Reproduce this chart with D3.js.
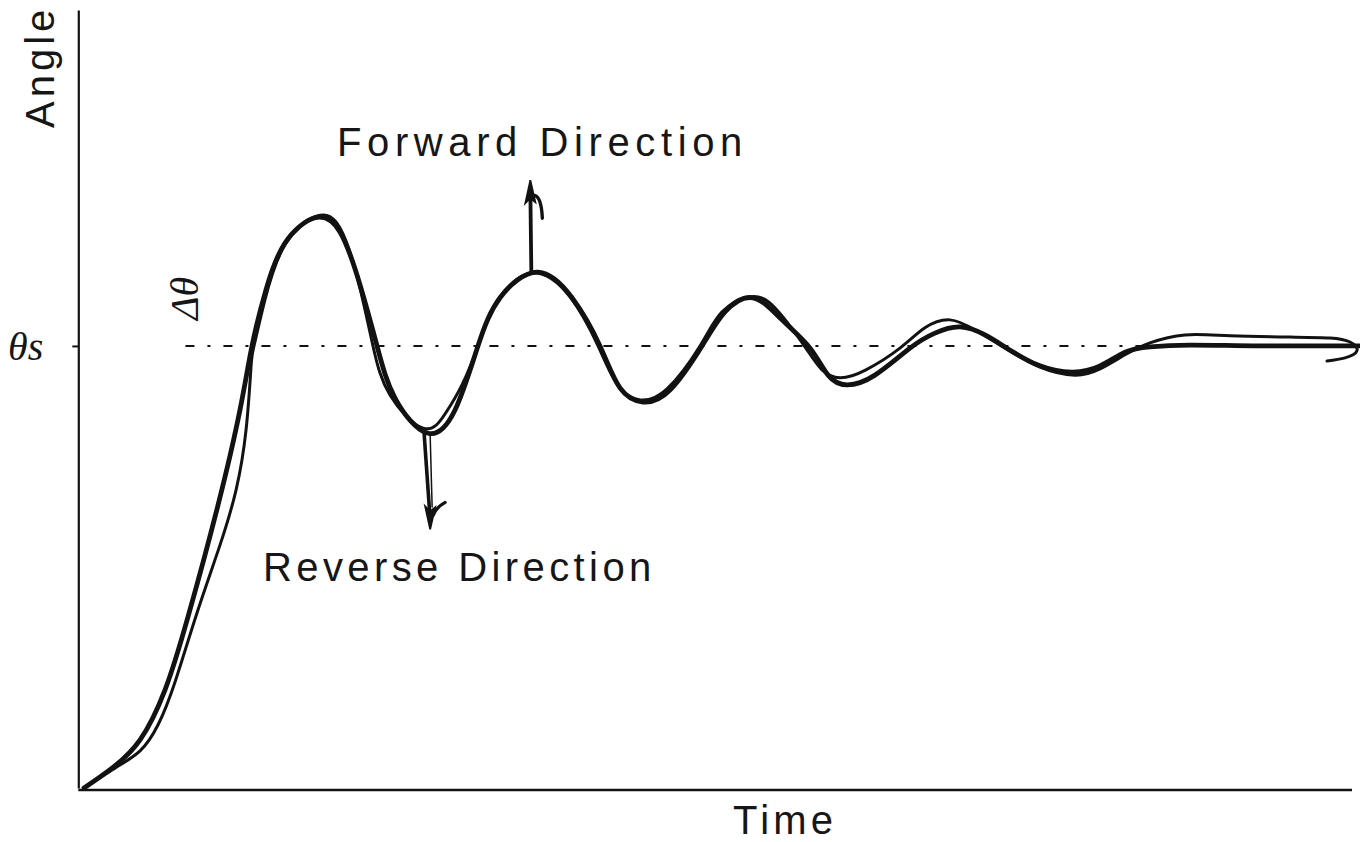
<!DOCTYPE html>
<html>
<head>
<meta charset="utf-8">
<script src="https://cdn.jsdelivr.net/npm/d3@7"></script>
<style>
  html, body { margin: 0; padding: 0; background: #fff; }
  svg { display: block; }
  .lbl { font-family: "Liberation Sans", Arial, sans-serif; font-size: 40px; fill: #161616; }
  .sym { font-family: "Liberation Serif", "DejaVu Serif", serif; font-style: italic; fill: #161616; }
</style>
</head>
<body>
<svg id="chart" width="1360" height="842"></svg>
<script>
// Step response of the angle: time (arbitrary units) vs angle relative to the set point θs (= 1)
const forwardTime  = [0, 2.21, 4.42, 6.39, 8.2, 10.57, 12.3, 13.25, 14.35, 15.85, 18.22, 20.19, 21.77, 23.11, 24.53, 27.05, 29.26, 31.07, 32.81, 35.73, 38.49, 40.69, 42.27, 44.09, 46.21, 48.74, 50.55, 52.76, 55.05, 57.26, 58.68, 60.17, 62.38, 65.14, 67.11, 69.09, 71.06, 72.79, 75.39, 77.99, 80.13, 82.1, 84.07, 87.22, 92.74, 100.63];
const forwardAngle = [0, 0.045, 0.109, 0.222, 0.387, 0.64, 0.855, 1.0, 1.127, 1.233, 1.29, 1.258, 1.138, 1.0, 0.882, 0.803, 0.855, 1.0, 1.109, 1.167, 1.109, 1.0, 0.905, 0.873, 0.9, 1.0, 1.077, 1.109, 1.059, 0.995, 0.934, 0.912, 0.934, 0.995, 1.029, 1.043, 1.025, 0.995, 0.955, 0.941, 0.955, 0.986, 0.998, 1.002, 1.0, 1.0];

const reverseTime  = [0, 2.44, 4.42, 5.84, 7.18, 8.91, 10.73, 11.99, 12.78, 13.17, 13.41, 14.27, 15.85, 18.38, 20.19, 21.61, 22.79, 24.13, 26.74, 28.47, 29.81, 31.07, 32.65, 35.41, 38.33, 40.54, 42.11, 43.85, 45.98, 48.58, 50.32, 52.52, 54.5, 56.86, 58.2, 59.62, 61.67, 64.35, 66.32, 68.3, 70.27, 72.63, 75.39, 78.15, 80.13, 82.1, 84.07, 86.83, 90.38, 95.11, 98.26, 99.84, 100.39, 99.45, 98.03];
const reverseAngle = [0, 0.045, 0.084, 0.143, 0.24, 0.396, 0.55, 0.674, 0.81, 0.952, 1.0, 1.104, 1.229, 1.294, 1.267, 1.149, 1.0, 0.889, 0.814, 0.846, 0.912, 1.0, 1.104, 1.165, 1.111, 1.0, 0.91, 0.878, 0.903, 1.0, 1.077, 1.111, 1.086, 0.998, 0.946, 0.928, 0.946, 0.995, 1.041, 1.059, 1.036, 0.995, 0.952, 0.934, 0.948, 0.98, 1.007, 1.025, 1.023, 1.02, 1.018, 1.009, 0.989, 0.973, 0.966];

const setPoint = 1;               // θs
const setLineSpan = [8, 84];      // extent of the dash-dot reference line (time units)
const fwdArrow = { t: 35.2, from: 1.168, to: 1.375 };   // upward arrow from the 2nd overshoot
const revArrow = { t0: 26.9, t1: 27.3, from: 0.803, to: 0.585 }; // downward arrow from the 1st undershoot

const labels = { y: "Angle", x: "Time", setPoint: "θs", delta: "Δθ", forward: "Forward Direction", reverse: "Reverse Direction" };

const svg = d3.select("#chart");
const ink = "#121212";

const x = d3.scaleLinear().domain([0, 100]).range([84, 1352]);
const y = d3.scaleLinear().domain([0, 1.76]).range([788, 10]);

// Axes: plain lines, one tick at the set point
const yAxis = d3.axisLeft(y).tickValues([setPoint]).tickFormat("").tickSize(6).tickSizeOuter(0);
const gy = svg.append("g").attr("transform", `translate(${x(-0.45)},0)`).call(yAxis);
gy.select(".domain").attr("stroke", ink).attr("stroke-width", 2.2);
gy.selectAll(".tick line").attr("stroke", ink).attr("stroke-width", 2);

const xAxis = d3.axisBottom(x).tickValues([]).tickSizeOuter(0);
const gx = svg.append("g").attr("transform", `translate(0,${y(0) + 2})`).call(xAxis);
gx.select(".domain").attr("stroke", ink).attr("stroke-width", 2.4)
  .attr("d", `M${x(-0.45)},0H${x(100)}`);

// Dash-dot set-point line
svg.append("line")
  .attr("x1", x(setLineSpan[0])).attr("x2", x(setLineSpan[1]))
  .attr("y1", y(setPoint)).attr("y2", y(setPoint))
  .attr("stroke", ink).attr("stroke-width", 2)
  .attr("stroke-dasharray", "9,13,3,13");

const line = d3.line()
  .x(d => x(d[0])).y(d => y(d[1]))
  .curve(d3.curveNatural);

const fwdData = forwardTime.map((t, i) => [t, forwardAngle[i]]);
const revData = reverseTime.map((t, i) => [t, reverseAngle[i]]);

svg.append("path").datum(fwdData).attr("d", line)
  .attr("fill", "none").attr("stroke", ink).attr("stroke-width", 4.8)
  .attr("stroke-linecap", "round").attr("stroke-linejoin", "round");
svg.append("path").datum(revData).attr("d", line)
  .attr("fill", "none").attr("stroke", ink).attr("stroke-width", 3)
  .attr("stroke-linecap", "round").attr("stroke-linejoin", "round");

// Forward-direction arrow
const fx = x(fwdArrow.t), fy0 = y(fwdArrow.from), fy1 = y(fwdArrow.to);
svg.append("line").attr("x1", fx + 1).attr("y1", fy0).attr("x2", fx).attr("y2", fy1 + 10)
  .attr("stroke", ink).attr("stroke-width", 3.8);
svg.append("path").attr("transform", `translate(${fx},${fy1})`)
  .attr("d", "M0,0 L-5,23 L0,18 L5,22 Z").attr("fill", ink).attr("stroke", ink).attr("stroke-width", 1.8);
svg.append("path").attr("transform", `translate(${fx},${fy1})`)
  .attr("d", "M3,15 Q11,15 12,38").attr("fill", "none").attr("stroke", ink).attr("stroke-width", 3.4)
  .attr("stroke-linecap", "round");

// Reverse-direction arrow (double-stroked shaft)
const rx0 = x(revArrow.t0), rx1 = x(revArrow.t1), ry0 = y(revArrow.from), ry1 = y(revArrow.to);
svg.append("line").attr("x1", rx0 - 1).attr("y1", ry0).attr("x2", rx1).attr("y2", ry1 - 10)
  .attr("stroke", ink).attr("stroke-width", 3.6);
svg.append("line").attr("x1", rx0 + 5).attr("y1", ry0).attr("x2", rx1 + 2).attr("y2", ry1 - 22)
  .attr("stroke", ink).attr("stroke-width", 1.5);
svg.append("path").attr("transform", `translate(${rx1},${ry1})`)
  .attr("d", "M0,0 L-5,-23 L0,-18 L5,-22 Z").attr("fill", ink).attr("stroke", ink).attr("stroke-width", 1.8);
svg.append("path").attr("transform", `translate(${rx1},${ry1})`)
  .attr("d", "M3,-14 Q6,-22 15,-27").attr("fill", "none").attr("stroke", ink).attr("stroke-width", 3.2)
  .attr("stroke-linecap", "round");

// Text
svg.append("text").attr("class", "lbl").attr("letter-spacing", 4)
  .attr("transform", `translate(54,128) rotate(-90)`).text(labels.y);
svg.append("text").attr("class", "lbl").attr("letter-spacing", 4.2)
  .attr("x", 733).attr("y", 834).text(labels.x);
svg.append("text").attr("class", "lbl").attr("letter-spacing", 5.6)
  .attr("x", 337).attr("y", 156).text(labels.forward);
svg.append("text").attr("class", "lbl").attr("letter-spacing", 4.4)
  .attr("x", 263).attr("y", 581).text(labels.reverse);
svg.append("text").attr("class", "sym").attr("x", 8).attr("y", y(setPoint) + 14)
  .attr("font-size", 40).text(labels.setPoint);
svg.append("text").attr("class", "sym")
  .attr("transform", `translate(198,320) rotate(-90)`)
  .attr("font-size", 40).text(labels.delta);
</script>
</body>
</html>
